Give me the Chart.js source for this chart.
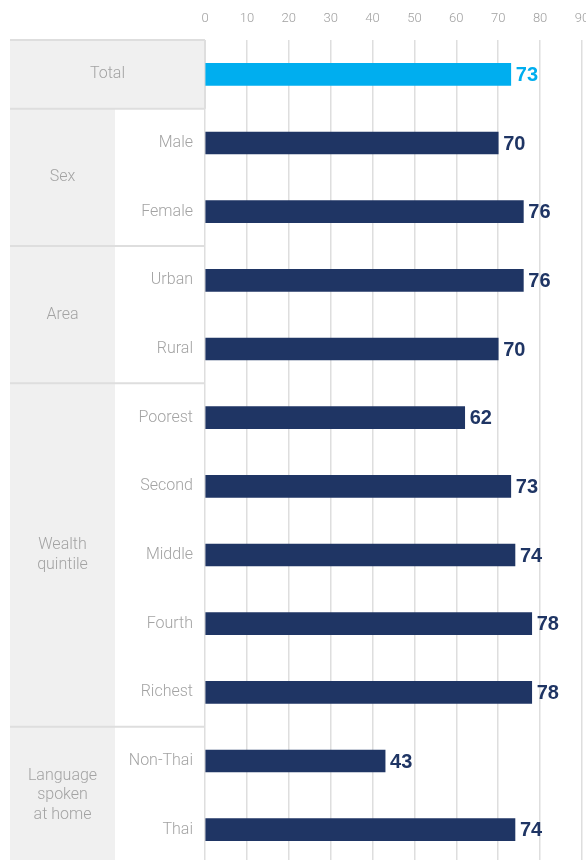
<!DOCTYPE html>
<html>
<head>
<meta charset="utf-8">
<script src="https://cdn.jsdelivr.net/npm/chart.js@4/dist/chart.umd.min.js"></script>
<style>
  html, body { margin: 0; padding: 0; background: #fff; overflow: hidden; }
  #wrap { width: 586px; height: 864px; }
</style>
</head>
<body>
<div id="wrap"><canvas id="myChart" width="586" height="864"></canvas></div>
<script>
const categories = ['Total', 'Male', 'Female', 'Urban', 'Rural', 'Poorest', 'Second', 'Middle', 'Fourth', 'Richest', 'Non-Thai', 'Thai'];
const values = [73, 70, 76, 76, 70, 62, 73, 74, 78, 78, 43, 74];
const groupNames = [['Total'], ['Sex'], ['Area'], ['Wealth', 'quintile'], ['Language', 'spoken', 'at home']];
const groupSizes = [1, 2, 2, 5, 2];
const xMax = 90;
const xStep = 10;

const NAVY = '#1f3564';
const CYAN = '#00aeef';
const GREY_TEXT = '#a3a3a3';
const PANEL = '#f0f0f0';
const RULE = '#dedede';

// grey panel on the left with the group names
const sidePanel = {
    id: 'sidePanel',
    beforeDraw(chart) {
        const ctx = chart.ctx;
        const y = chart.scales.y;
        const area = chart.chartArea;
        const half = (y.getPixelForValue(1) - y.getPixelForValue(0)) / 2;
        const left = 10, split = 115, right = area.left;
        ctx.save();
        let start = 0;
        groupSizes.forEach((size, g) => {
            const end = start + size - 1;
            const top = y.getPixelForValue(start) - half;
            const bottom = y.getPixelForValue(end) + half;
            ctx.fillStyle = PANEL;
            ctx.fillRect(left, top, (g === 0 ? right : split) - left, bottom - top);
            ctx.strokeStyle = RULE;
            ctx.lineWidth = 2;
            ctx.beginPath();
            ctx.moveTo(left, top);
            ctx.lineTo(right, top);
            if (g === 0) {
                ctx.moveTo(right, top);
                ctx.lineTo(right, bottom);
            }
            ctx.stroke();

            const lines = groupNames[g];
            const cx = g === 0 ? (left + right) / 2 : (left + split) / 2;
            const cy = (y.getPixelForValue(start) + y.getPixelForValue(end)) / 2;
            const lh = 19.5;
            ctx.fillStyle = GREY_TEXT;
            ctx.font = '300 16px Roboto';
            ctx.textAlign = 'center';
            ctx.textBaseline = 'middle';
            lines.forEach((t, i) => {
                ctx.fillText(t, cx, cy + (i - (lines.length - 1) / 2) * lh);
            });
            start = end + 1;
        });
        ctx.restore();
    }
};

// value printed just past the end of each bar
const barValues = {
    id: 'barValues',
    afterDatasetsDraw(chart) {
        const ctx = chart.ctx;
        const meta = chart.getDatasetMeta(0);
        ctx.save();
        ctx.font = 'bold 20px "Liberation Sans", Arial, sans-serif';
        ctx.textAlign = 'left';
        ctx.textBaseline = 'middle';
        meta.data.forEach((bar, i) => {
            ctx.fillStyle = i === 0 ? CYAN : NAVY;
            ctx.fillText(values[i], bar.x + 5, bar.y + 1);
        });
        ctx.restore();
    }
};

const ctx = document.getElementById('myChart').getContext('2d');
new Chart(ctx, {
    type: 'bar',
    data: {
        labels: categories,
        datasets: [{
            data: values,
            backgroundColor: values.map((v, i) => i === 0 ? CYAN : NAVY),
            barThickness: 22
        }]
    },
    options: {
        indexAxis: 'y',
        responsive: false,
        animation: false,
        layout: { padding: { left: 0, right: 4, top: 0, bottom: 0 } },
        plugins: {
            legend: { display: false },
            tooltip: { enabled: false }
        },
        scales: {
            x: {
                position: 'top',
                min: 0,
                max: xMax,
                ticks: {
                    stepSize: xStep,
                    color: '#a0a0a0',
                    font: { family: 'Roboto', size: 13, weight: '300' },
                    padding: 13,
                    maxRotation: 0
                },
                grid: { color: RULE, lineWidth: 1.5, drawTicks: false },
                border: { display: false },
                afterFit(scale) {
                    scale.height = 40;
                    scale.paddingLeft = 0;
                    scale.paddingRight = 0;
                }
            },
            y: {
                ticks: {
                    color: GREY_TEXT,
                    font: { family: 'Roboto', size: 16, weight: '300' },
                    padding: 12,
                    callback: (v, i) => i === 0 ? '' : categories[i]
                },
                grid: { display: false, drawTicks: false },
                border: { display: false },
                afterFit(scale) {
                    scale.width = 205;
                    scale.paddingTop = 0;
                    scale.paddingBottom = 0;
                }
            }
        }
    },
    plugins: [sidePanel, barValues]
});
</script>
</body>
</html>
